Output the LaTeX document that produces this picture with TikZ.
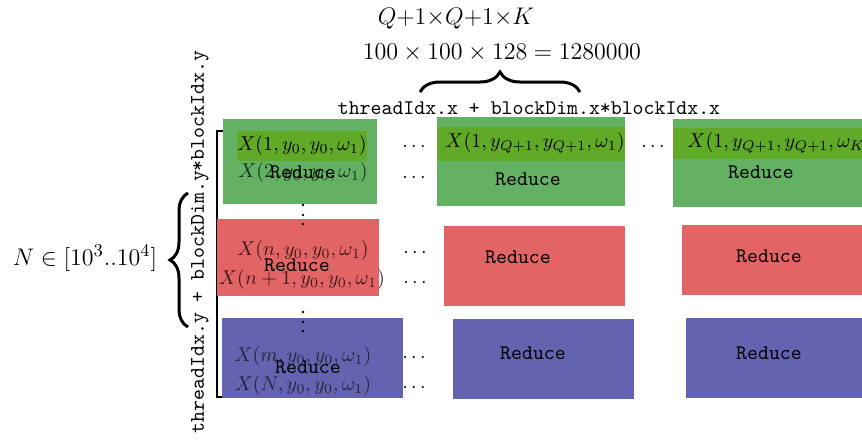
\documentclass[tikz,border=0pt]{standalone}
\usetikzlibrary{decorations.pathreplacing}
\definecolor{gbox}{RGB}{99,177,99}
\definecolor{gband}{RGB}{96,170,40}
\definecolor{rbox}{RGB}{227,100,100}
\definecolor{bbox}{RGB}{99,99,175}
\begin{document}
\begin{tikzpicture}[x=0.5pt,y=-0.5pt,
  mx/.style={font=\fontsize{10.1}{12}\selectfont, inner sep=0},
  code/.style={font=\fontsize{10.4}{12}\selectfont\ttfamily, inner sep=0},
  bigbrace/.style={decorate, decoration={brace, amplitude=#1}, line width=1.5pt}]
\useasboundingbox (0,0) rectangle (862,441);

% titles
\node[inner sep=0, font=\fontsize{11.6}{13}\selectfont] (t1) at (456,19) {$Q{+}1{\times}Q{+}1{\times}K$};
\node[inner sep=0, font=\fontsize{12.6}{14}\selectfont] (t2) at (502,53) {$100\times100\times128=1280000$};
\draw[bigbrace=10pt] (420,92) -- (580,92);
\node[code] (tx) at (529,108) {threadIdx.x + blockDim.x*blockIdx.x};

% left side
\node[inner sep=0, font=\fontsize{12.4}{14}\selectfont] (nn) at (85,258) {$N\in[10^3..10^4]$};
\draw[bigbrace=9pt] (188,327) -- (188,193);
\node[code, rotate=90] (ty) at (200,242) {threadIdx.y + blockDim.y*blockIdx.y};
\draw[line width=1pt] (223,131) -- (217,131) -- (217,397) -- (223,397);

% column 1
\fill[gbox] (223,119) rectangle (377,204);
\fill[gband] (237,131) rectangle (367,161);
\node[mx] (x11) at (302,145) {$X(1,y_0,y_0,\omega_1)$};
\node[mx, text=black!75!gbox] (x12) at (303,172) {$X(2,y_0,y_0,\omega_1)$};
\node[code] (r11) at (303,172) {Reduce};

\fill[rbox] (217,219) rectangle (379,296);
\node[mx, text=black!75!rbox] (xn) at (303,250) {$X(n,y_0,y_0,\omega_1)$};
\node[mx, text=black!75!rbox] (xn1) at (302,279) {$X(n+1,y_0,y_0,\omega_1)$};
\node[code] (r21) at (297,265) {Reduce};

\fill[bbox] (222,318) rectangle (403,398);
\node[mx, text=black!65!bbox] (xm) at (303,356) {$X(m,y_0,y_0,\omega_1)$};
\node[mx, text=black!65!bbox] (xN) at (303,385) {$X(N,y_0,y_0,\omega_1)$};
\node[code] (r31) at (308,367) {Reduce};

% vertical dots
\foreach \yy in {205,215,224} \fill (303,\yy) circle (0.65pt);
\foreach \yy in {312,322,331} \fill (303,\yy) circle (0.65pt);

% horizontal dots
\node[mx] (d1) at (414,147) {$\cdots$};
\node[mx] (d2) at (414,178) {$\cdots$};
\node[mx] (d3) at (415,253) {$\cdots$};
\node[mx] (d4) at (415,283) {$\cdots$};
\node[mx] (d5) at (414,358) {$\cdots$};
\node[mx] (d6) at (414,388) {$\cdots$};
\node[mx] (d7) at (653,147) {$\cdots$};

% column 2
\fill[gbox] (437,117) rectangle (625,206);
\fill[gband] (437,127) rectangle (625,161);
\node[mx] (x21) at (535,143) {$X(1,y_{Q+1},y_{Q+1},\omega_1)$};
\node[code] (r12) at (528,179) {Reduce};
\fill[rbox] (444,226) rectangle (625,306);
\node[code] (r22) at (518,257) {Reduce};
\fill[bbox] (453,319) rectangle (634,399);
\node[code] (r32) at (533,353) {Reduce};

% column 3
\fill[gbox] (673,119) rectangle (870,207);
\fill[gband] (673,128) rectangle (870,159);
\node[mx, anchor=west] (x31) at (687,143) {$X(1,y_{Q+1},y_{Q+1},\omega_K)$};
\node[code] (r13) at (761,172) {Reduce};
\fill[rbox] (682,225) rectangle (870,295);
\node[code] (r23) at (769,256) {Reduce};
\fill[bbox] (686,318) rectangle (870,398);
\node[code] (r33) at (769,353) {Reduce};
\end{tikzpicture}
\end{document}
